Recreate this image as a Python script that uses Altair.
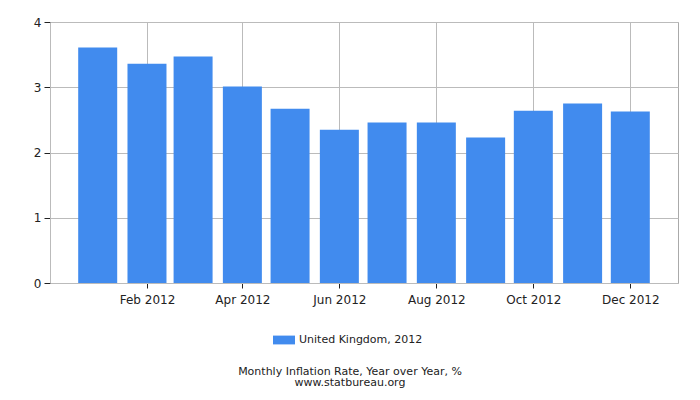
import altair as alt
import pandas as pd

months = ["2012-01-01", "2012-02-01", "2012-03-01", "2012-04-01", "2012-05-01", "2012-06-01",
          "2012-07-01", "2012-08-01", "2012-09-01", "2012-10-01", "2012-11-01", "2012-12-01"]
values = [3.61, 3.36, 3.47, 3.01, 2.67, 2.35, 2.46, 2.46, 2.23, 2.64, 2.75, 2.63]
series_name = "United Kingdom, 2012"
tick_months = [2, 4, 6, 8, 10, 12]
y_ticks = [0, 1, 2, 3, 4]

df = pd.DataFrame({"date": months, "value": values, "series": [series_name] * len(months)})

FONT = "DejaVu Sans"
BAR = "#418BEE"

chart = alt.Chart(df).mark_bar(size=39).encode(
    x=alt.X(
        "date:T",
        scale=alt.Scale(
            type="utc",
            nice=False,
            padding=0,
            domain=[alt.DateTime(year=2011, month=12, date=2, utc=True),
                    alt.DateTime(year=2012, month=12, date=31, utc=True)],
        ),
        axis=alt.Axis(
            values=[alt.DateTime(year=2012, month=m, date=1, utc=True) for m in tick_months],
            labelExpr="utcFormat(datum.value, '%b %Y')", title=None,
            tickSize=5, labelPadding=6,
        ),
    ),
    y=alt.Y(
        "value:Q",
        scale=alt.Scale(domain=[0, 4], nice=False),
        axis=alt.Axis(values=y_ticks, title=None, tickSize=6, labelPadding=3),
    ),
    color=alt.Color(
        "series:N",
        scale=alt.Scale(range=[BAR]),
        legend=alt.Legend(
            title=None, orient="none", legendX=223, legendY=307, padding=0,
            symbolType="M-1,-0.4H1V0.4H-1Z", symbolSize=484, symbolStrokeWidth=0,
            labelFont=FONT, labelFontSize=11, labelColor="#222", labelOffset=4,
        ),
    ),
).properties(
    width=628,
    height=261,
    autosize=alt.AutoSizeParams(type="none"),
    padding={"left": 42, "top": 14, "right": 14, "bottom": 109},
    title=alt.TitleParams(
        text=["Monthly Inflation Rate, Year over Year, %", "www.statbureau.org"],
        orient="bottom", anchor="middle", dx=-14, offset=21,
        font=FONT, fontSize=11, fontWeight="normal", color="#222", lineHeight=11,
    ),
).configure_view(
    stroke="#aaaaaa", strokeWidth=1,
).configure_axis(
    gridColor="#bbbbbb", gridWidth=1,
    domainColor="#bbbbbb", tickColor="#222222",
    labelFont=FONT, labelFontSize=12, labelColor="#222222",
)

chart.save("out.html", embed_options={"renderer": "svg", "actions": False})
